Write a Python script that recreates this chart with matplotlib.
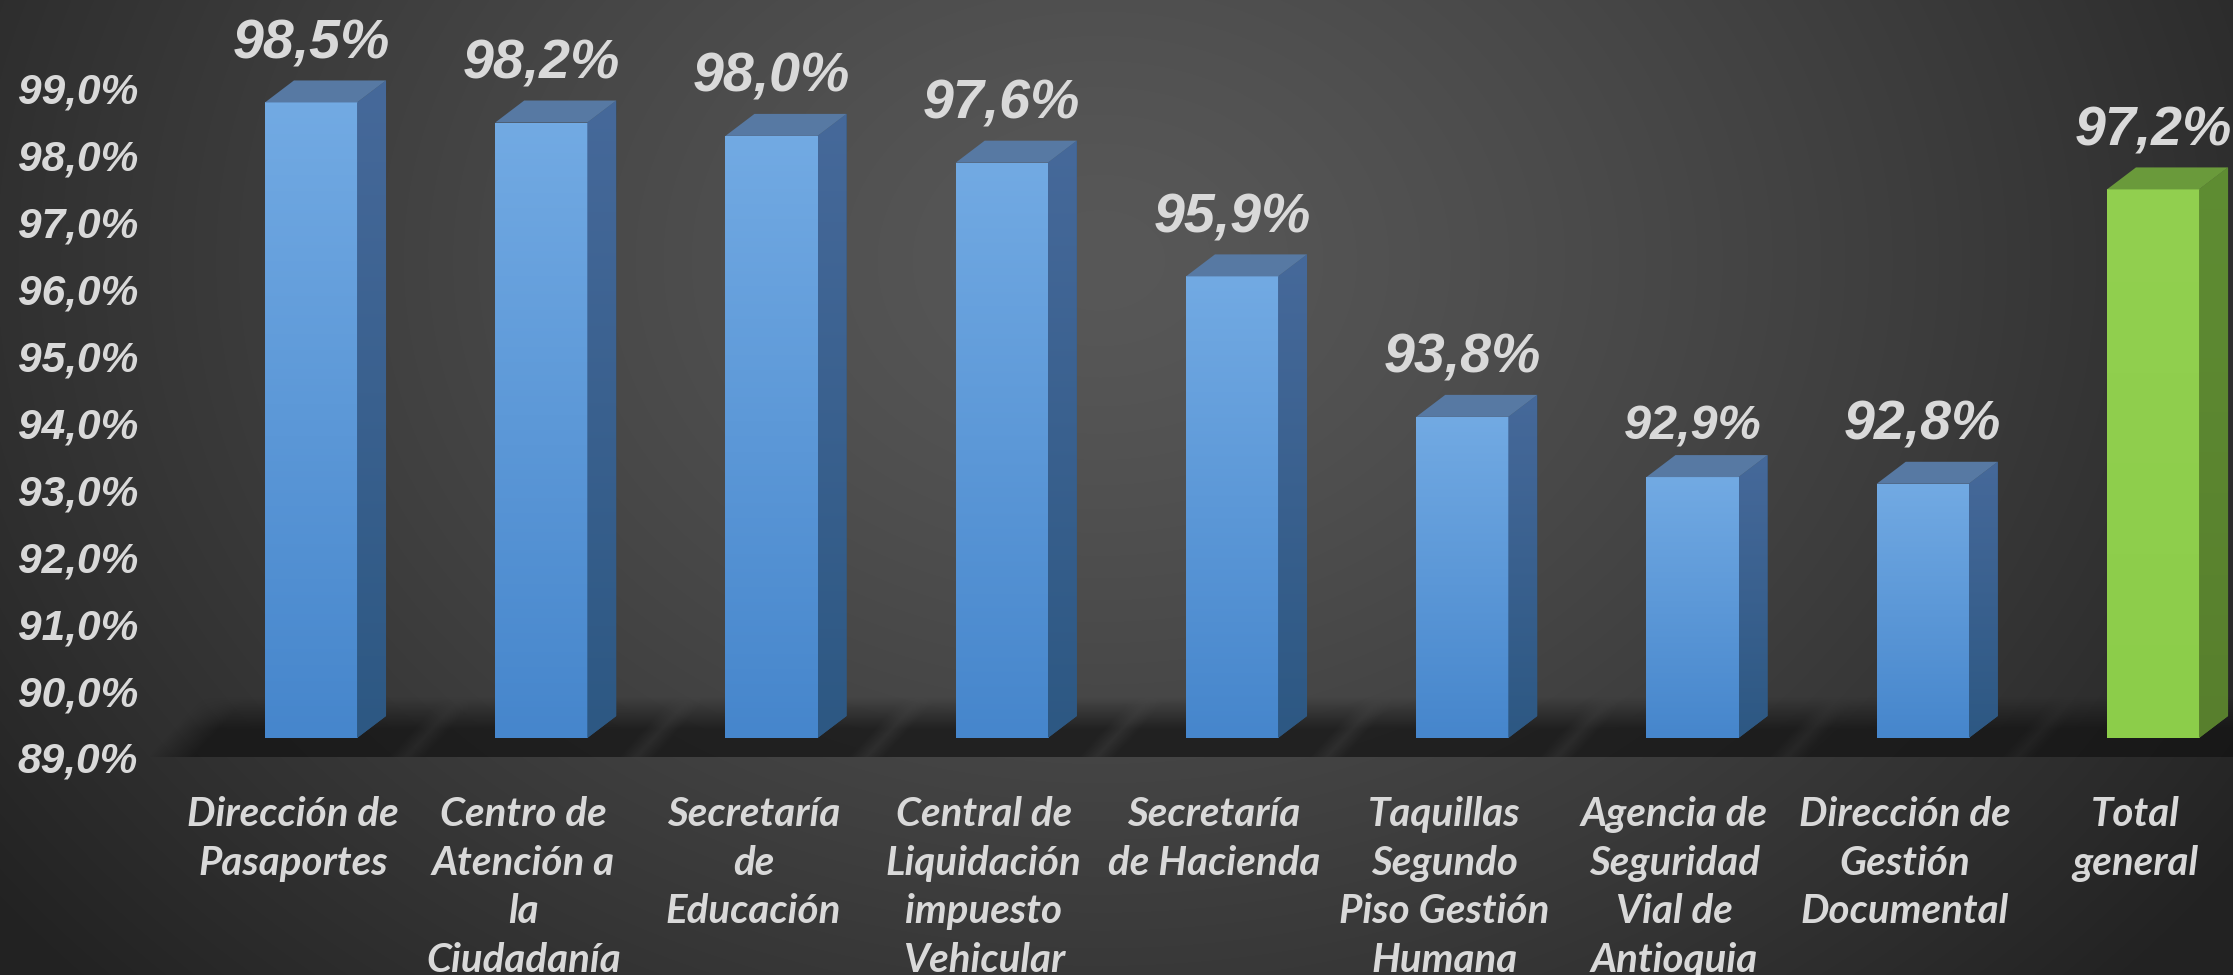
import numpy as np
import matplotlib
matplotlib.use("Agg")
import matplotlib.pyplot as plt
from matplotlib.patches import Polygon
from matplotlib.transforms import ScaledTranslation
from matplotlib.colors import LinearSegmentedColormap

# ---------------- data ----------------
categories = [
    "Dirección de\nPasaportes",
    "Centro de\nAtención a\nla\nCiudadanía",
    "Secretaría\nde\nEducación",
    "Central de\nLiquidación\nimpuesto\nVehicular",
    "Secretaría\nde Hacienda",
    "Taquillas\nSegundo\nPiso Gestión\nHumana",
    "Agencia de\nSeguridad\nVial de\nAntioquia",
    "Dirección de\nGestión\nDocumental",
    "Total\ngeneral",
]
values = [98.5, 98.2, 98.0, 97.6, 95.9, 93.8, 92.9, 92.8, 97.2]
value_labels = ["98,5%", "98,2%", "98,0%", "97,6%", "95,9%", "93,8%", "92,9%", "92,8%", "97,2%"]
y_ticks = [89, 90, 91, 92, 93, 94, 95, 96, 97, 98, 99]
y_tick_labels = ["89,0%", "90,0%", "91,0%", "92,0%", "93,0%", "94,0%",
                 "95,0%", "96,0%", "97,0%", "98,0%", "99,0%"]
is_total = [False, False, False, False, False, False, False, False, True]

# ---------------- styles ----------------
W, H, DPI = 2233, 975, 100
PXX, PXY = 230.25, 66.9          # pixels per category / per percent
X0_PX, FLOOR_PX, LEFT_PX = 311, 738, 150
BASE = 89.0
YMIN = 88.5
TEXT = "#d9d9d9"
label_sizes = [40, 40, 40, 40, 40, 40, 35, 40, 40]
label_offsets_px = [44, 44, 44, 44, 44, 44, 38, 44, 44]

blue = dict(front=("#72aae3", "#4686cc"), side=("#46699a", "#2d5883"), top="#5779a3")
green = dict(front=("#92d050", "#8ccd4a"), side=("#5f8d33", "#587f2d"), top="#6a9a3b")

fig = plt.figure(figsize=(W / DPI, H / DPI), dpi=DPI)

# background radial gradient
bg = fig.add_axes([0, 0, 1, 1], zorder=-10)
yy, xx = np.mgrid[0:H, 0:W]
r = np.sqrt(((xx - 1100) / 1350.0) ** 2 + ((yy - 260) / 1050.0) ** 2)
val = np.clip(88 - 52 * r ** 1.3, 34, 90) / 255.0
bg.imshow(np.dstack([val, val, val]), extent=[0, 1, 0, 1], aspect="auto", origin="upper")
bg.axis("off")

# main axes
bottom_from_top = FLOOR_PX + (BASE - YMIN) * PXY
ax = fig.add_axes([LEFT_PX / W, (H - bottom_from_top) / H, (W - LEFT_PX) / W, bottom_from_top / H])
xlim = (-(X0_PX - LEFT_PX) / PXX, (W - X0_PX) / PXX)
ylim = (YMIN, YMIN + bottom_from_top / PXY)
ax.patch.set_alpha(0)
for s in ax.spines.values():
    s.set_visible(False)

n = len(values)
x = np.arange(n)
bw = 0.40
dx = 29 / PXX
dy = 22 / PXY

# floor shadow (slanted parallelogram behind each bar)
floor_bottom = BASE - 19 / PXY
gx = np.linspace(xlim[0], xlim[1], 1600)
gy = np.linspace(floor_bottom, BASE + 45 / PXY, 140)
GX, GY = np.meshgrid(gx, gy)
def ramp(v, a, b):
    return np.clip((v - a) / (b - a), 0, 1)
hpx = (GY - floor_bottom) * PXY
alpha = np.zeros_like(GX)
soft = 35 / PXX
for i in x:
    xl, xr = i - bw / 2, i + bw / 2 + dx
    shift = hpx * 0.9 / PXX
    left = xl - 82 / PXX + shift
    right = xr + 13 / PXX + shift
    bx = ramp(GX, left - soft, left + soft * 0.3) * ramp(GX, right + soft, right - soft * 0.3)
    by = ramp(hpx, 60, 28)
    alpha = np.maximum(alpha, 0.68 * bx * by)
shadow = np.zeros(GX.shape + (4,))
shadow[..., 0:3] = 0.07
shadow[..., 3] = alpha
ax.imshow(shadow, extent=[gx[0], gx[-1], gy[0], gy[-1]], origin="lower",
          aspect="auto", zorder=1, interpolation="bilinear")

grad = np.linspace(0, 1, 200).reshape(-1, 1)
for i, v in enumerate(values):
    st = green if is_total[i] else blue
    xl, xr = x[i] - bw / 2, x[i] + bw / 2
    # front face
    bar = ax.bar(x[i], v - BASE, bottom=BASE, width=bw, color=st["front"][1],
                 linewidth=0, zorder=5)[0]
    cm = LinearSegmentedColormap.from_list("f%d" % i, list(st["front"]))
    im = ax.imshow(grad, extent=[xl, xr, BASE, v], origin="upper", cmap=cm,
                   aspect="auto", zorder=5.1)
    im.set_clip_path(bar)
    # side face
    side = Polygon([(xr, BASE), (xr + dx, BASE + dy), (xr + dx, v + dy), (xr, v)],
                   closed=True, facecolor=st["side"][1], edgecolor="none", zorder=5)
    ax.add_patch(side)
    cs = LinearSegmentedColormap.from_list("s%d" % i, list(st["side"]))
    ims = ax.imshow(grad, extent=[xr, xr + dx, BASE, v + dy], origin="upper", cmap=cs,
                    aspect="auto", zorder=5.1)
    ims.set_clip_path(side)
    # top face
    ax.add_patch(Polygon([(xl, v), (xr, v), (xr + dx, v + dy), (xl + dx, v + dy)],
                         closed=True, facecolor=st["top"], edgecolor="none", zorder=5.2))
    # data label
    ax.annotate(value_labels[i], (x[i], v), xytext=(0, label_offsets_px[i] * 72 / DPI),
                textcoords="offset points", ha="center", va="baseline",
                fontsize=label_sizes[i], fontweight="bold", fontstyle="italic",
                family=["Liberation Sans", "DejaVu Sans"], color=TEXT, zorder=10)

ax.set_xlim(*xlim)
ax.set_ylim(*ylim)

ax.set_yticks(y_ticks)
ax.set_yticklabels(y_tick_labels, fontsize=30.5, fontweight="bold", fontstyle="italic",
                   family=["Liberation Sans", "DejaVu Sans"], color=TEXT)
ax.set_xticks(x)
ax.set_xticklabels(categories, fontsize=29, fontweight="bold", fontstyle="italic",
                   family=["Liberation Sans Narrow", "Lato", "DejaVu Sans"],
                   color=TEXT, linespacing=1.38)
ax.tick_params(axis="y", length=0, pad=8.6)
ax.tick_params(axis="x", length=0, pad=18)

yoff = ScaledTranslation(0, -19.5 / DPI, fig.dpi_scale_trans)
for lab in ax.get_yticklabels():
    lab.set_transform(lab.get_transform() + yoff)
xoff = ScaledTranslation(-18 / DPI, 0, fig.dpi_scale_trans)
for lab in ax.get_xticklabels():
    lab.set_transform(lab.get_transform() + xoff)

fig.savefig("out.png", dpi=DPI)
